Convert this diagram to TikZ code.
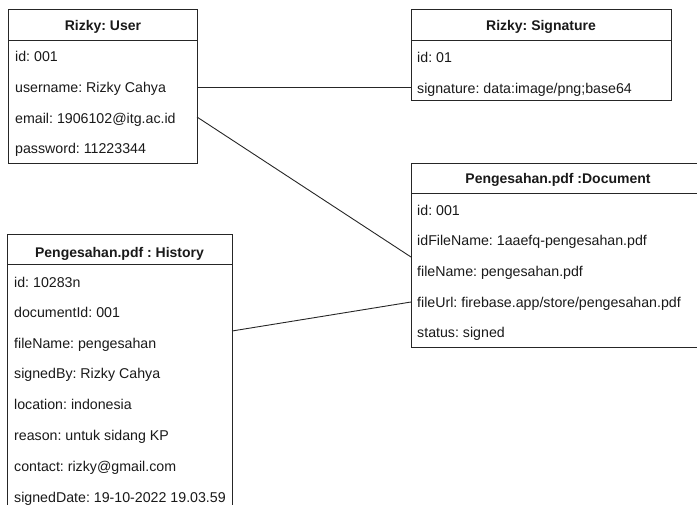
\documentclass[tikz,border=0pt]{standalone}
\usepackage{fontspec}
\setmainfont{Liberation Sans}
\begin{document}
\frenchspacing
\begin{tikzpicture}[x=1pt,y=-1pt,
  box/.style={draw=black!85,line width=0.9pt,rectangle,inner sep=0pt,outer sep=0pt,anchor=north west},
  sep/.style={draw=black!85,line width=0.9pt},
  conn/.style={draw=black!85,line width=0.9pt},
  row/.style={anchor=base west,inner sep=0pt,font=\fontsize{14.2}{16}\selectfont\frenchspacing,text=black!90},
  head/.style={anchor=base,inner sep=0pt,font=\fontsize{14}{16}\selectfont\bfseries\frenchspacing,text=black!90}]
\useasboundingbox (0,0) rectangle (697,504);
\clip (0,0) rectangle (697,504);
% Boxes
\node[box,minimum width=188.5pt,minimum height=153.5pt] (user) at (8.5,9.5) {};
\node[box,minimum width=260pt,minimum height=91pt] (sig) at (411,9.5) {};
\node[box,minimum width=294pt,minimum height=184pt] (doc) at (411,163) {};
\node[box,minimum width=225pt,minimum height=290pt] (hist) at (7,234) {};
% header separators
\draw[sep] ([yshift=-30.5pt]user.north west) -- ([yshift=-30.5pt]user.north east);
\draw[sep] ([yshift=-30.5pt]sig.north west) -- ([yshift=-30.5pt]sig.north east);
\draw[sep] ([yshift=-30pt]doc.north west) -- ([yshift=-30pt]doc.north east);
\draw[sep] ([yshift=-30pt]hist.north west) -- ([yshift=-30pt]hist.north east);
% User
\node[head] (uh) at (103,30) {Rizky: User};
\node[row] (u1) at (15,61) {id: 001};
\node[row] (u2) at (15,92) {username: Rizky Cahya};
\node[row] (u3) at (15,123) {email: 1906102@itg.ac.id};
\node[row] (u4) at (15,153.5) {password: 11223344};
% Signature
\node[head] (sh) at (541,30) {Rizky: Signature};
\node[row] (s1) at (417,62) {id: 01};
\node[row] (s2) at (417,93) {signature: data:image/png;base64};
% Document
\node[head] (dh) at (558,183) {Pengesahan.pdf :Document};
\node[row] (d1) at (417,215) {id: 001};
\node[row] (d2) at (417,245.5) {idFileName: 1aaefq-pengesahan.pdf};
\node[row] (d3) at (417,276) {fileName: pengesahan.pdf};
\node[row] (d4) at (417,307) {fileUrl: firebase.app/store/pengesahan.pdf};
\node[row] (d5) at (417,337.5) {status: signed};
% History
\node[head] (hh) at (119.5,257) {Pengesahan.pdf : History};
\node[row] (h1) at (14,287) {id: 10283n};
\node[row] (h2) at (14,317.5) {documentId: 001};
\node[row] (h3) at (14,348) {fileName: pengesahan};
\node[row] (h4) at (14,378.5) {signedBy: Rizky Cahya};
\node[row] (h5) at (14,409) {location: indonesia};
\node[row] (h6) at (14,440) {reason: untuk sidang KP};
\node[row] (h7) at (14,471) {contact: rizky@gmail.com};
\node[row] (h8) at (14,502) {signedDate: 19-10-2022 19.03.59};
% Connectors
\draw[conn] ([yshift=-77.5pt]user.north east) -- ([yshift=-77.5pt]sig.north west);
\draw[conn] ([yshift=-107.5pt]user.north east) -- ([yshift=-94pt]doc.north west);
\draw[conn] ([yshift=-97pt]hist.north east) -- ([yshift=-139pt]doc.north west);
\end{tikzpicture}
\end{document}
